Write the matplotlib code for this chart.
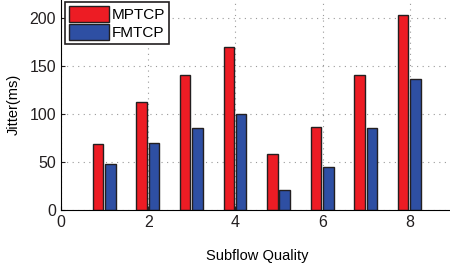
import matplotlib
matplotlib.use('Agg')
import matplotlib.pyplot as plt
import numpy as np

# Data
quality = [1, 2, 3, 4, 5, 6, 7, 8]
mptcp = [69, 113, 141, 170, 58, 87, 141, 203]
fmtcp = [48, 70, 86, 100, 21, 45, 86, 137]

plt.rcParams['font.family'] = 'Liberation Sans'

fig = plt.figure(figsize=(4.5, 2.71), dpi=100)
ax = fig.add_axes([61 / 450, 61 / 271, 9 * 43.6 / 450, 211 / 271])

x = np.array(quality)
width = 0.24
ax.bar(x - 0.15, mptcp, width, color='#ED1C24', edgecolor='#231F20', linewidth=1.0, label='MPTCP')
ax.bar(x + 0.13, fmtcp, width, color='#2E4FA3', edgecolor='#231F20', linewidth=1.0, label='FMTCP')

ax.set_xlim(0, 9)
ax.set_ylim(0, 220)
ax.set_xticks([0, 2, 4, 6, 8])
ax.set_yticks([0, 50, 100, 150, 200])
ax.tick_params(labelsize=11.5, direction='in', length=3, colors='#231F20')
ax.grid(linestyle=(0, (1, 4)), color='#999999', linewidth=0.8)
ax.set_axisbelow(True)
for s in ['top', 'right']:
    ax.spines[s].set_visible(False)

ax.set_ylabel('Jitter(ms)', fontsize=10.5, labelpad=6)
ax.set_xlabel('Subflow Quality', fontsize=10.5, labelpad=14)

leg = ax.legend(loc='upper left', bbox_to_anchor=(0.003, 1.0), fontsize=11, fancybox=False,
                edgecolor='#231F20', framealpha=1, handlelength=2.6, handleheight=1.2,
                handletextpad=0.2, borderpad=0.25, labelspacing=0.15, borderaxespad=0.2)
leg.get_frame().set_linewidth(1.2)

fig.savefig('out.png', dpi=100)
